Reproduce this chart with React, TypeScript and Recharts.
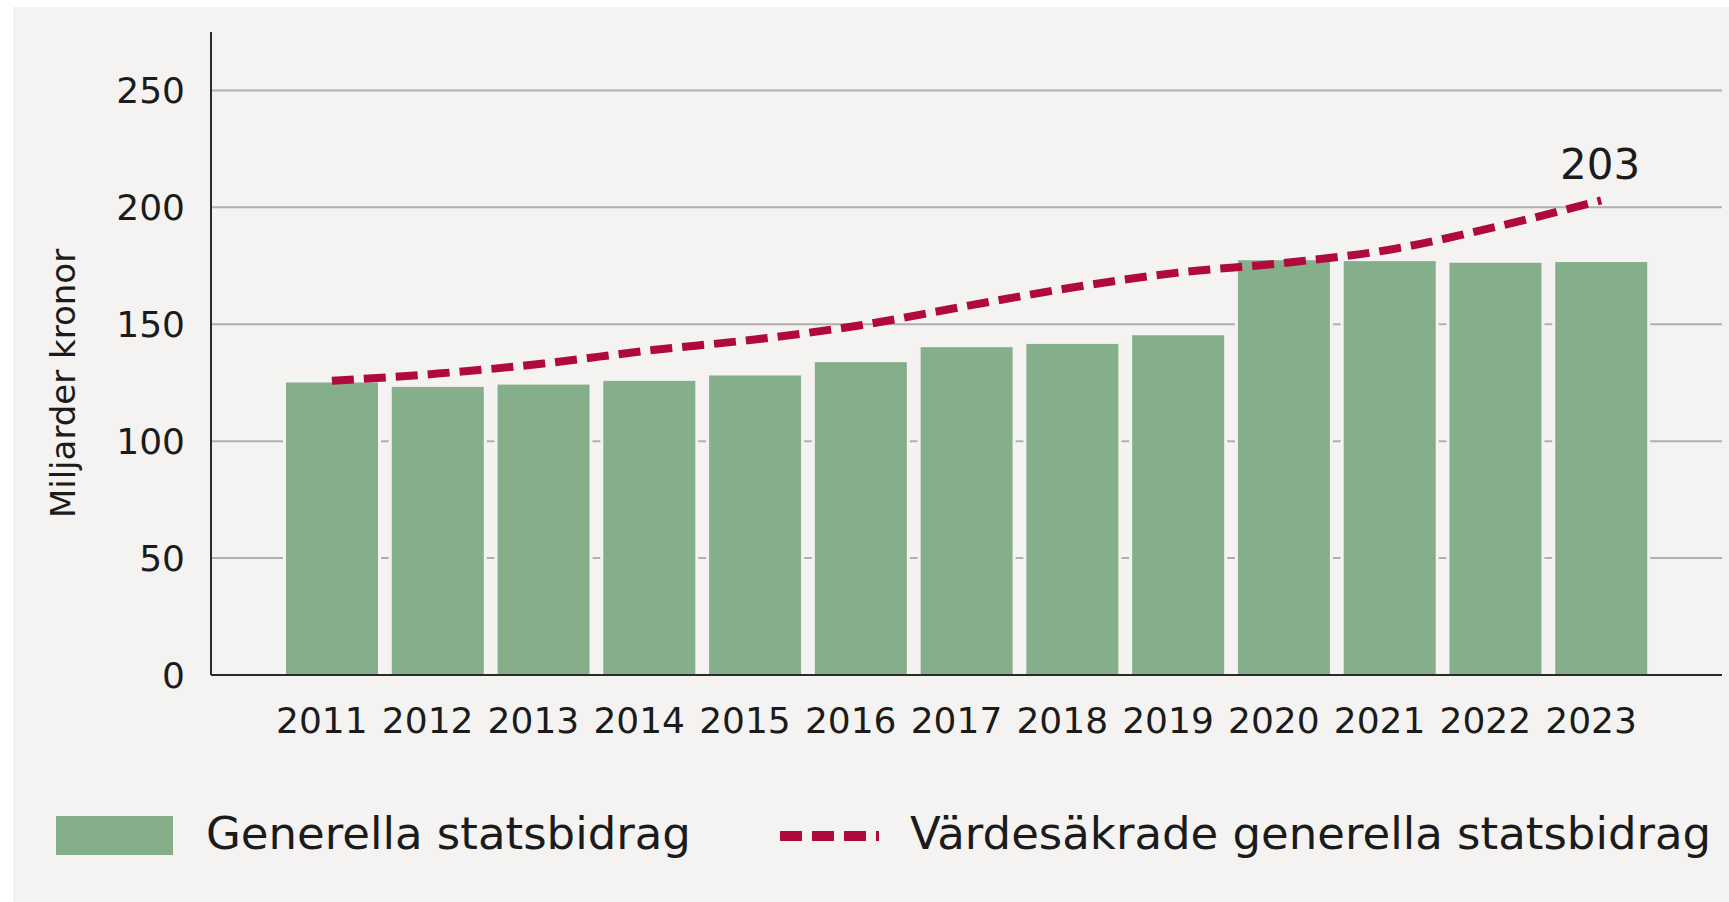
import React from 'react';
import { ComposedChart, Bar, Line, XAxis, YAxis, CartesianGrid, LabelList, Label } from 'recharts';

// values in miljarder kronor
const years = ['2011', '2012', '2013', '2014', '2015', '2016', '2017', '2018', '2019', '2020', '2021', '2022', '2023'];
const generellaStatsbidrag = [125.1, 123.2, 124.2, 125.8, 128.1, 133.8, 140.2, 141.6, 145.3, 177.4, 177.0, 176.3, 176.6];
const vardesakradeStatsbidrag = [125.8, 128.9, 133.2, 138.8, 143.5, 149.6, 157.8, 165.7, 172.1, 176.2, 181.9, 191.6, 203];
const yTicks = [0, 50, 100, 150, 200, 250];
const yMax = 275;

const chartData = years.map((year, i) => ({
  year,
  generella: generellaStatsbidrag[i],
  vardesakrade: vardesakradeStatsbidrag[i],
}));

const BG = '#f4f3f1';
const GREEN = '#85ae8a';
const RED = '#b0093d';
const TEXT = '#1b1b1b';
const FONT = '"DejaVu Sans", sans-serif';

// bar with a thin background-coloured halo so the grid lines stop short of it
const BarWithGap = (props: any) => {
  const { x, y, width, height } = props;
  if (!height || height <= 0) return null;
  return (
    <g>
      <rect x={x - 3} y={y - 3} width={width + 6} height={height} fill={BG} />
      <rect x={x} y={y} width={width} height={height} fill={GREEN} />
    </g>
  );
};

const lastValue = vardesakradeStatsbidrag[vardesakradeStatsbidrag.length - 1];

const renderEndLabel = (props: any) => {
  const { x, y, value } = props;
  if (value !== lastValue) return null;
  return (
    <text x={x - 1} y={y - 21} textAnchor="middle" fill={TEXT} fontSize={42} fontFamily={FONT}>
      {value}
    </text>
  );
};

const renderYLabel = (props: any) => {
  const { viewBox } = props;
  const cx = viewBox.x + 75;
  const cy = viewBox.y + viewBox.height / 2 + 30;
  return (
    <text
      x={cx}
      y={cy}
      transform={`rotate(-90, ${cx}, ${cy})`}
      textAnchor="middle"
      fill={TEXT}
      fontSize={34}
      fontFamily={FONT}
    >
      Miljarder kronor
    </text>
  );
};

// only draw grid lines at the labelled ticks (not at the top of the axis)
const gridRows = ({ yAxis, offset }: any) =>
  yTicks.map((t) =>
    yAxis && typeof yAxis.scale === 'function'
      ? yAxis.scale(t)
      : offset.top + offset.height * (1 - t / yMax)
  );

const App: React.FC = () => {
  return (
    <div style={{ position: 'absolute', left: 0, top: 0, width: 1729, height: 902, background: '#ffffff' }}>
      <div style={{ position: 'absolute', left: 13, top: 7, width: 1716, height: 895, background: BG }} />
      <div style={{ position: 'absolute', left: 0, top: 0 }}>
        <ComposedChart
          width={1729}
          height={902}
          data={chartData}
          margin={{ top: 32, right: 7, bottom: 167, left: 0 }}
        >
          <CartesianGrid
            vertical={false}
            stroke="#b0b0b0"
            strokeWidth={2}
            horizontalCoordinatesGenerator={gridRows}
          />
          <Bar
            dataKey="generella"
            name="Generella statsbidrag"
            barSize={92}
            shape={BarWithGap}
            isAnimationActive={false}
          />
          <Line
            type="monotone"
            dataKey="vardesakrade"
            name="Värdesäkrade generella statsbidrag"
            stroke={RED}
            strokeWidth={8}
            strokeDasharray="22 10"
            dot={false}
            activeDot={false}
            isAnimationActive={false}
          >
            <LabelList dataKey="vardesakrade" content={renderEndLabel} />
          </Line>
          <XAxis
            dataKey="year"
            height={60}
            padding={{ left: 68, right: 68 }}
            axisLine={{ stroke: '#2a2a2a', strokeWidth: 2 }}
            tickLine={false}
            tickSize={0}
            tickMargin={32}
            interval={0}
            tick={{ fill: TEXT, fontSize: 36, fontFamily: FONT, dx: -10 }}
          />
          <YAxis
            width={211}
            domain={[0, yMax]}
            ticks={yTicks}
            allowDataOverflow
            axisLine={{ stroke: '#2a2a2a', strokeWidth: 2 }}
            tickLine={false}
            tickSize={0}
            tickMargin={26}
            tick={{ fill: TEXT, fontSize: 36, fontFamily: FONT }}
          >
            <Label content={renderYLabel} />
          </YAxis>
        </ComposedChart>
      </div>
      {/* legend */}
      <div
        style={{
          position: 'absolute',
          left: 0,
          top: 800,
          width: 1729,
          height: 80,
          fontFamily: FONT,
          fontSize: 45,
          color: TEXT,
        }}
      >
        <div style={{ position: 'absolute', left: 56, top: 16, width: 117, height: 39, background: GREEN }} />
        <div style={{ position: 'absolute', left: 206, top: 8, lineHeight: '52px', whiteSpace: 'nowrap' }}>
          Generella statsbidrag
        </div>
        <svg style={{ position: 'absolute', left: 780, top: 26 }} width={100} height={20}>
          <line x1={0} y1={10} x2={99} y2={10} stroke={RED} strokeWidth={10} strokeDasharray="22 10" />
        </svg>
        <div style={{ position: 'absolute', left: 910, top: 8, lineHeight: '52px', whiteSpace: 'nowrap' }}>
          Värdesäkrade generella statsbidrag
        </div>
      </div>
    </div>
  );
};

export default App;
